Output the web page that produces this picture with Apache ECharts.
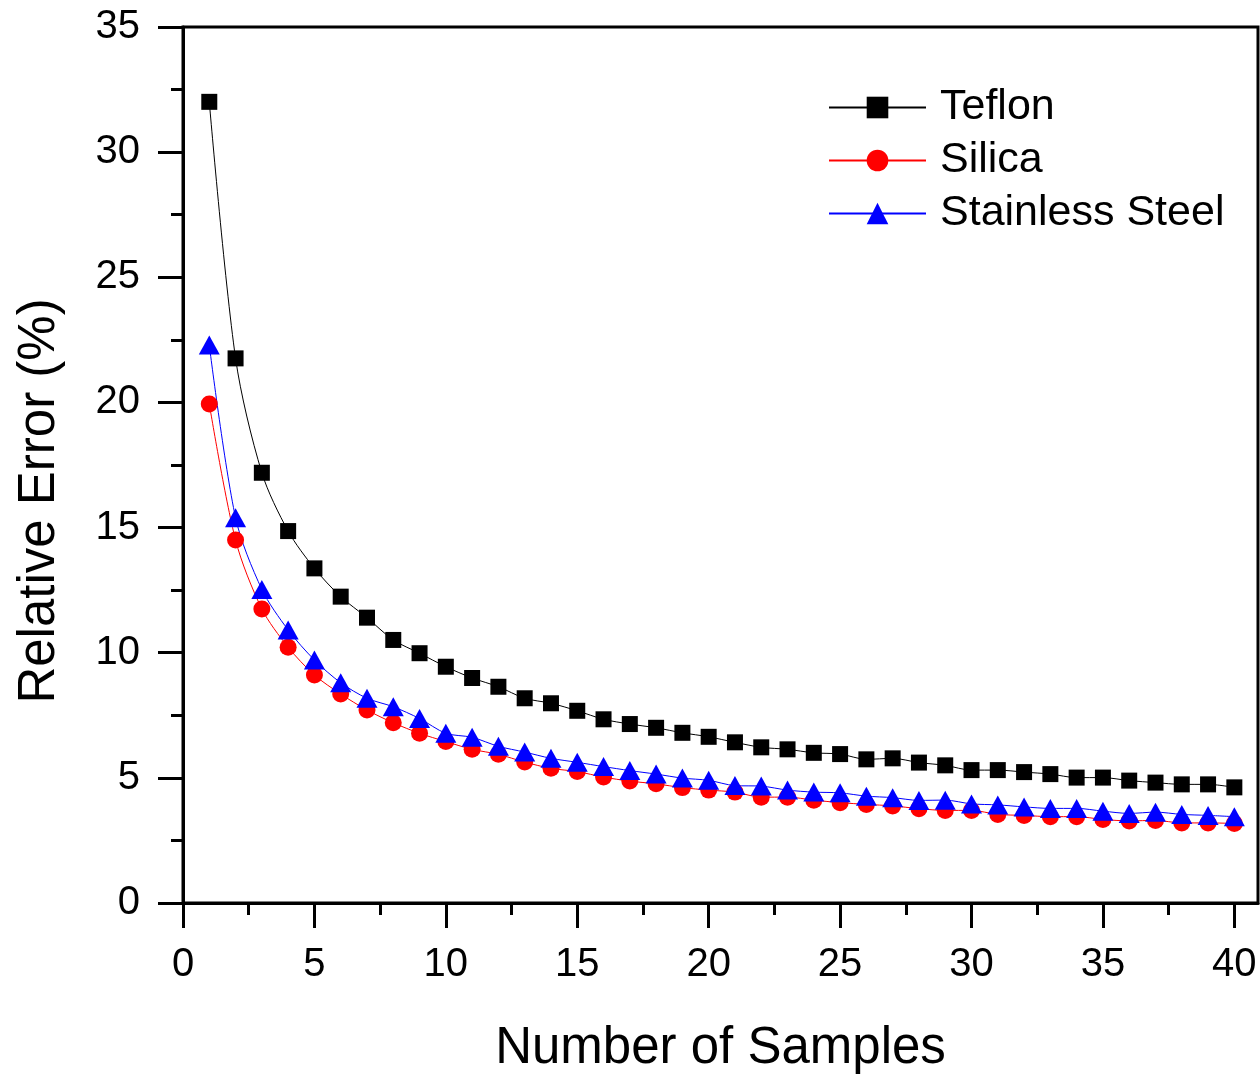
<!DOCTYPE html>
<html>
<head>
<meta charset="utf-8">
<script src="https://cdn.jsdelivr.net/npm/echarts@6/dist/echarts.min.js"></script>
<style>
html,body{margin:0;padding:0;background:#fff;}
#chart{width:1260px;height:1074px;}
</style>
</head>
<body>
<div id="chart"></div>
<script>
const samples = [1,2,3,4,5,6,7,8,9,10,11,12,13,14,15,16,17,18,19,20,21,22,23,24,25,26,27,28,29,30,31,32,33,34,35,36,37,38,39,40];
const teflon = [32.01,21.76,17.19,14.86,13.37,12.24,11.40,10.51,9.98,9.44,
                8.99,8.64,8.18,7.98,7.68,7.34,7.15,7.00,6.80,6.64,
                6.42,6.22,6.14,6.00,5.95,5.74,5.78,5.61,5.50,5.31,
                5.31,5.23,5.15,5.01,5.01,4.89,4.81,4.74,4.74,4.62];
const silica = [19.94,14.50,11.75,10.22,9.11,8.35,7.71,7.20,6.78,6.45,
                6.14,5.94,5.63,5.38,5.25,5.03,4.87,4.76,4.61,4.51,
                4.43,4.23,4.23,4.11,4.01,3.94,3.88,3.77,3.70,3.70,
                3.54,3.50,3.45,3.45,3.34,3.28,3.30,3.20,3.20,3.18];
const steel = [22.29,15.39,12.53,10.91,9.71,8.80,8.18,7.84,7.37,6.78,
               6.62,6.26,6.03,5.78,5.62,5.45,5.29,5.15,4.99,4.90,
               4.69,4.67,4.51,4.43,4.40,4.27,4.21,4.10,4.11,3.96,
               3.92,3.84,3.78,3.78,3.67,3.58,3.63,3.54,3.50,3.45];
const xMajorTicks = [0,5,10,15,20,25,30,35,40];
const xMinorTicks = [2.5,7.5,12.5,17.5,22.5,27.5,32.5,37.5];
const seriesNames = ['Teflon','Silica','Stainless Steel'];

const FONT = '"Liberation Sans", Arial, sans-serif';
const pair = (ys) => samples.map((x, i) => [x, ys[i]]);

const chart = echarts.init(document.getElementById('chart'), null, {renderer: 'canvas'});
chart.setOption({
  animation: false,
  backgroundColor: '#fff',
  grid: {left: 183, top: 27, right: 2, bottom: 171, show: true, borderColor: '#000', borderWidth: 3,
         containLabel: false, outerBoundsMode: 'none'},
  legend: {
    left: 823, top: 81, orient: 'vertical', itemWidth: 97, itemHeight: 27, itemGap: 10,
    textStyle: {fontFamily: FONT, fontSize: 43, color: '#000', padding: [0,0,0,9]},
    data: seriesNames
  },
  xAxis: [{
    type: 'value', min: 0, max: 40.9,
    name: 'Number of Samples', nameLocation: 'middle', nameGap: 120,
    nameTextStyle: {fontFamily: FONT, fontSize: 51, color: '#000'},
    axisLine: {show: true, onZero: false, lineStyle: {color: '#000', width: 3}},
    axisTick: {show: true, inside: false, length: 25, lineStyle: {color: '#000', width: 3}, customValues: xMajorTicks},
    axisLabel: {fontFamily: FONT, fontSize: 40, color: '#000', margin: 42, customValues: xMajorTicks},
    splitLine: {show: false}
  }, {
    type: 'value', min: 0, max: 40.9, position: 'bottom', gridIndex: 0,
    axisLine: {show: false},
    axisTick: {show: true, inside: false, length: 12, lineStyle: {color: '#000', width: 3}, customValues: xMinorTicks},
    axisLabel: {show: false},
    splitLine: {show: false}
  }],
  yAxis: {
    type: 'value', min: 0, max: 35, interval: 5,
    name: 'Relative Error (%)', nameLocation: 'middle', nameGap: 118,
    nameTextStyle: {fontFamily: FONT, fontSize: 51, color: '#000', padding: [0, 72, 0, 0]},
    axisLine: {show: true, onZero: false, lineStyle: {color: '#000', width: 3}},
    axisTick: {show: true, inside: false, length: 25, lineStyle: {color: '#000', width: 3}},
    minorTick: {show: true, splitNumber: 2, length: 12, lineStyle: {color: '#000', width: 3}},
    axisLabel: {fontFamily: FONT, fontSize: 40, color: '#000', margin: 43},
    splitLine: {show: false},
    minorSplitLine: {show: false}
  },
  series: [{
    name: seriesNames[0], type: 'line', data: pair(teflon), smooth: 0.3,
    symbol: 'rect', symbolSize: 16,
    itemStyle: {color: '#000'}, lineStyle: {color: '#000', width: 1}
  }, {
    name: seriesNames[1], type: 'line', data: pair(silica), smooth: 0.3,
    symbol: 'circle', symbolSize: 17,
    itemStyle: {color: '#ff0000'}, lineStyle: {color: '#ff0000', width: 1}
  }, {
    name: seriesNames[2], type: 'line', data: pair(steel), smooth: 0.3,
    symbol: 'triangle', symbolSize: [21, 19],
    itemStyle: {color: '#0000ff'}, lineStyle: {color: '#0000ff', width: 1}
  }]
});
</script>
</body>
</html>
